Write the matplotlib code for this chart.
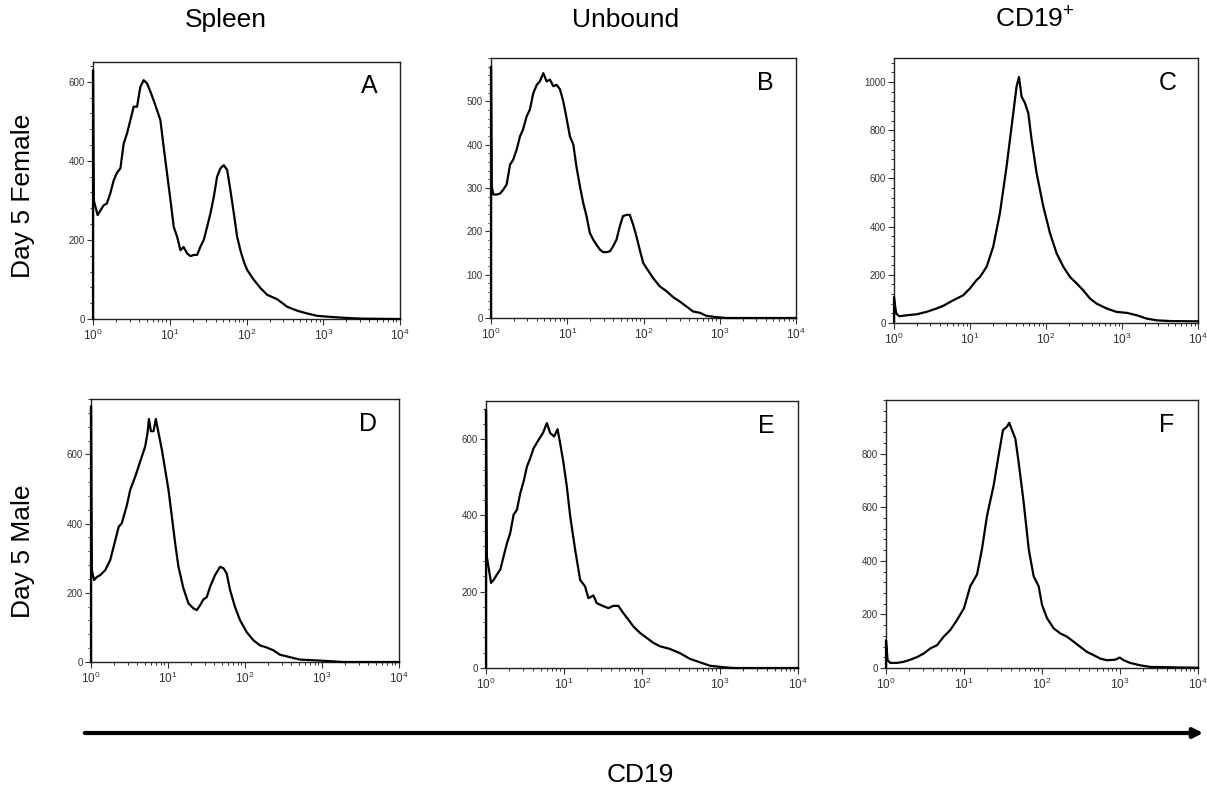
import numpy as np
import matplotlib
matplotlib.use("Agg")
import matplotlib.pyplot as plt
from matplotlib.ticker import LogLocator, MultipleLocator, NullFormatter, LogFormatterSciNotation, FixedLocator

plt.rcParams['font.family'] = ['Liberation Sans', 'DejaVu Sans']
plt.rcParams['mathtext.default'] = 'regular'

# ---- data: CD19 intensity (log10 decade position) and event counts ----
a_dec = [0.0, 0.0, 0.01, 0.06, 0.14, 0.18, 0.226, 0.27, 0.313, 0.357, 0.4, 0.443, 0.487, 0.53, 0.574, 0.617, 0.66,
         0.704, 0.748, 0.79, 0.835, 0.878, 0.92, 0.965, 1.009, 1.052, 1.096, 1.139, 1.18, 1.226, 1.27, 1.313, 1.357,
         1.4, 1.443, 1.487, 1.53, 1.574, 1.617, 1.66, 1.704, 1.748, 1.79, 1.835, 1.878, 1.92, 1.965, 2.009, 2.096,
         2.183, 2.27, 2.4, 2.53, 2.66, 2.79, 2.92, 3.05, 3.27, 3.49, 4.0]
a_cnt = [0, 629, 300, 263, 288, 292, 318, 351, 370, 381, 444, 469, 503, 537, 537, 587, 604,
         596, 575, 553, 528, 503, 436, 368, 301, 233, 208, 174, 182, 166, 159, 162, 162,
         183, 200, 233, 267, 309, 360, 381, 389, 377, 326, 267, 208, 174, 145, 124, 99,
         78, 61, 50, 31, 21, 14, 8, 6, 3, 1, 0]

b_dec = [0.0, 0.0, 0.01, 0.03, 0.074, 0.118, 0.16, 0.205, 0.25, 0.29, 0.336, 0.38, 0.42, 0.467, 0.51, 0.555, 0.6,
         0.64, 0.686, 0.73, 0.773, 0.817, 0.86, 0.904, 0.948, 0.99, 1.035, 1.08, 1.12, 1.166, 1.21, 1.253, 1.297,
         1.34, 1.384, 1.428, 1.47, 1.515, 1.56, 1.6, 1.646, 1.69, 1.73, 1.777, 1.82, 1.865, 1.908, 1.95, 1.996,
         2.04, 2.127, 2.214, 2.3, 2.39, 2.476, 2.56, 2.65, 2.74, 2.825, 2.956, 3.09, 4.0]
b_cnt = [0, 580, 304, 285, 285, 287, 296, 308, 354, 365, 388, 419, 435, 465, 481, 519, 538,
         546, 565, 546, 550, 535, 538, 528, 500, 462, 419, 400, 350, 304, 265, 235, 196,
         181, 169, 158, 152, 152, 154, 165, 181, 212, 235, 238, 238, 215, 188, 158, 127,
         115, 92, 73, 62, 48, 38, 27, 15, 12, 5, 2, 0, 0]

c_dec = [0.0, 0.0, 0.01, 0.03, 0.07, 0.163, 0.295, 0.426, 0.558, 0.646, 0.778, 0.91, 0.998, 1.086, 1.13, 1.218,
         1.305, 1.393, 1.481, 1.547, 1.613, 1.644, 1.679, 1.723, 1.767, 1.811, 1.877, 1.965, 2.053, 2.141, 2.229,
         2.316, 2.404, 2.49, 2.58, 2.668, 2.8, 2.93, 3.064, 3.196, 3.327, 3.46, 3.635, 4.0]
c_cnt = [0, 108, 80, 39, 28, 32, 36, 46, 60, 71, 94, 115, 143, 178, 191, 233,
         316, 455, 649, 815, 982, 1021, 940, 913, 871, 760, 621, 483, 372, 288, 233,
         191, 164, 136, 101, 80, 60, 46, 42, 32, 18, 11, 8, 7]

d_dec = [0.0, 0.0, 0.01, 0.04, 0.078, 0.12, 0.186, 0.25, 0.294, 0.36, 0.4, 0.467, 0.51, 0.575, 0.64, 0.704,
         0.734, 0.752, 0.778, 0.812, 0.842, 0.877, 0.92, 0.963, 1.006, 1.05, 1.093, 1.136, 1.2, 1.266, 1.33,
         1.374, 1.417, 1.46, 1.503, 1.546, 1.611, 1.676, 1.72, 1.762, 1.806, 1.87, 1.935, 2.02, 2.108, 2.194,
         2.28, 2.367, 2.454, 2.583, 2.713, 2.886, 3.06, 3.27, 4.0]
d_cnt = [0, 739, 266, 237, 246, 251, 266, 295, 333, 391, 401, 454, 498, 536, 580, 623,
         662, 702, 667, 667, 702, 662, 614, 556, 498, 420, 343, 275, 213, 169, 155,
         150, 164, 181, 187, 217, 251, 275, 271, 256, 208, 159, 121, 87, 63, 48,
         42, 34, 21, 14, 7, 5, 3, 0, 0]

e_dec = [0.0, 0.0, 0.01, 0.065, 0.098, 0.14, 0.183, 0.226, 0.27, 0.311, 0.354, 0.397, 0.44, 0.482, 0.525, 0.567,
         0.61, 0.674, 0.73, 0.78, 0.823, 0.874, 0.917, 0.95, 0.994, 1.036, 1.08, 1.143, 1.207, 1.27, 1.313, 1.377,
         1.42, 1.505, 1.57, 1.633, 1.697, 1.76, 1.825, 1.889, 1.974, 2.06, 2.145, 2.23, 2.358, 2.486, 2.614,
         2.742, 2.87, 3.0, 3.17, 4.0]
e_cnt = [0, 677, 293, 223, 231, 245, 258, 293, 328, 354, 402, 415, 459, 489, 528, 550,
         576, 598, 616, 642, 616, 607, 626, 590, 537, 476, 397, 310, 231, 214, 183, 190,
         170, 162, 157, 163, 163, 144, 127, 109, 92, 79, 66, 57, 50, 39, 24,
         15, 6, 3, 0, 0]

f_dec = [0.0, 0.0, 0.02, 0.055, 0.14, 0.226, 0.312, 0.4, 0.483, 0.568, 0.654, 0.74, 0.825, 0.91, 1.0, 1.08,
         1.167, 1.23, 1.295, 1.38, 1.444, 1.5, 1.55, 1.58, 1.615, 1.658, 1.7, 1.765, 1.83, 1.893, 1.957, 2.0,
         2.064, 2.15, 2.235, 2.32, 2.406, 2.49, 2.577, 2.662, 2.748, 2.833, 2.94, 2.996, 3.047, 3.13, 3.26,
         3.39, 4.0]
f_cnt = [0, 104, 29, 19, 19, 23, 31, 41, 54, 73, 85, 117, 142, 179, 223, 305,
         349, 443, 568, 681, 794, 888, 900, 915, 888, 856, 769, 618, 443, 342, 305, 236,
         186, 148, 129, 117, 98, 79, 60, 48, 35, 29, 31, 39, 29, 19, 10,
         4, 1]

panel_letters = ["A", "B", "C", "D", "E", "F"]
col_titles = ["Spleen", "Unbound", "CD19$^{+}$"]
row_titles = ["Day 5 Female", "Day 5 Male"]
x_label = "CD19"
y_tops = [650, 600, 1100, 760, 700, 1000]
y_ticks = [[0, 200, 400, 600], [0, 100, 200, 300, 400, 500], [0, 200, 400, 600, 800, 1000],
           [0, 200, 400, 600], [0, 200, 400, 600], [0, 200, 400, 600, 800]]
series = [(a_dec, a_cnt), (b_dec, b_cnt), (c_dec, c_cnt),
          (d_dec, d_cnt), (e_dec, e_cnt), (f_dec, f_cnt)]

W, H = 1207, 793
fig = plt.figure(figsize=(W / 100, H / 100), dpi=100)

# axes boxes in pixels: left, right, top, bottom
boxes = [(93, 400, 62, 319), (491, 796, 58, 318), (894, 1198, 58, 323),
         (91, 399, 399, 662), (486, 798, 401, 668), (886, 1198, 400, 668)]

for i, ((dec, cnt), (l, r, t, b)) in enumerate(zip(series, boxes)):
    ax = fig.add_axes([l / W, 1 - b / H, (r - l) / W, (b - t) / H])
    x = 10 ** np.array(dec)
    ax.plot(x, cnt, color="black", lw=1.6, solid_joinstyle="round", zorder=3, clip_on=False)
    ax.set_xscale("log")
    ax.set_xlim(1, 1e4)
    ax.set_ylim(0, y_tops[i])
    ax.xaxis.set_major_locator(LogLocator(base=10, numticks=10))
    ax.xaxis.set_minor_locator(LogLocator(base=10, subs=np.arange(2, 10), numticks=20))
    ax.xaxis.set_minor_formatter(NullFormatter())
    ax.xaxis.set_major_formatter(LogFormatterSciNotation())
    ax.yaxis.set_major_locator(FixedLocator(y_ticks[i]))
    step = y_ticks[i][1] - y_ticks[i][0]
    ax.yaxis.set_minor_locator(MultipleLocator(step / 5))
    ax.tick_params(axis="y", which="major", direction="out", length=4, width=0.8,
                   labelsize=7, colors="#333333", pad=2)
    ax.tick_params(axis="x", which="major", direction="out", length=4, width=0.8,
                   labelsize=8.5, colors="#333333", pad=2)
    ax.tick_params(axis="both", which="minor", direction="out", length=2.5, width=0.7, colors="#333333")
    for s in ax.spines.values():
        s.set_linewidth(1.0)
        s.set_color("#222222")
    ax.text(0.9, 0.905, panel_letters[i], transform=ax.transAxes, fontsize=18,
            ha="center", va="center")

# column titles
for xc, txt in zip([226, 626, 1035], col_titles):
    fig.text(xc / W, 1 - 20 / H, txt, fontsize=19, ha="center", va="center")

# row titles
for yc, txt in zip([196, 551], row_titles):
    fig.text(23 / W, 1 - yc / H, txt, fontsize=19, ha="center", va="center", rotation=90)

# bottom arrow and axis label
fig.add_artist(matplotlib.patches.FancyArrowPatch((82 / W, 1 - 733 / H), (1206 / W, 1 - 733 / H),
                                                  transform=fig.transFigure, arrowstyle="-|>",
                                                  mutation_scale=14, lw=3, color="black"))
fig.text(640 / W, 1 - 775 / H, x_label, fontsize=19, ha="center", va="center")

fig.savefig("out.png", dpi=100)
